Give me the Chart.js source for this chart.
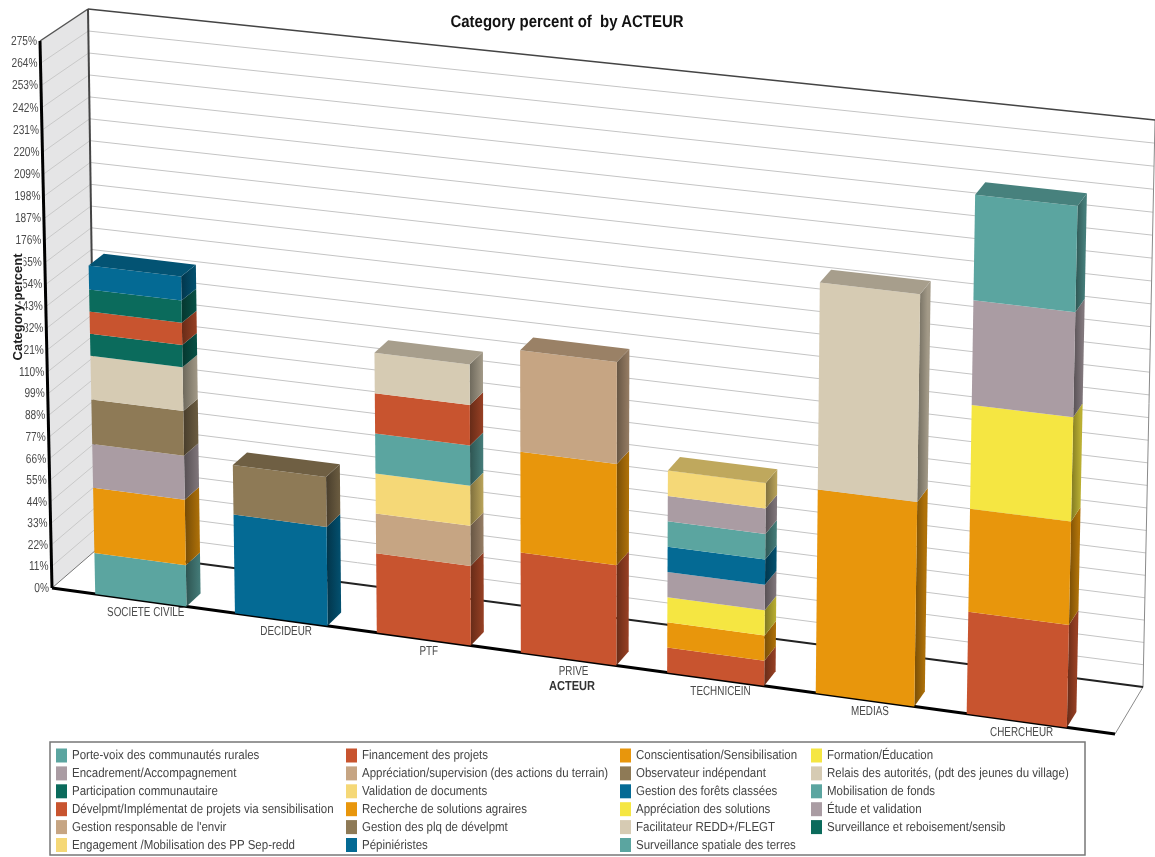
<!DOCTYPE html>
<html>
<head>
<meta charset="utf-8">
<title>Category percent of by ACTEUR</title>
<script src="https://cdn.jsdelivr.net/npm/chart.js@4"></script>
<style>
  html, body { margin: 0; padding: 0; background: #fff; }
  canvas { display: block; }
</style>
</head>
<body>
<canvas id="acteurChart" width="1155" height="857"></canvas>
<script>
const categories = ['SOCIETE CIVILE', 'DECIDEUR', 'PTF', 'PRIVE', 'TECHNICEIN', 'MEDIAS', 'CHERCHEUR'];
const yTicks = [0, 11, 22, 33, 44, 55, 66, 77, 88, 99, 110, 121, 132, 143, 154, 165, 176, 187, 198, 209, 220, 231, 242, 253, 264, 275];

const seriesNames = [
    'Porte-voix des communautés rurales', 'Financement des projets', 'Conscientisation/Sensibilisation', 'Formation/Éducation',
    'Encadrement/Accompagnement', 'Appréciation/supervision (des actions du terrain)', 'Observateur indépendant', 'Relais des autorités, (pdt des jeunes du village)',
    'Participation communautaire', 'Validation de documents', 'Gestion des forêts classées', 'Mobilisation de fonds',
    'Dévelpmt/Implémentat de projets via sensibilisation', 'Recherche de solutions agraires', 'Appréciation des solutions', 'Étude et validation',
    "Gestion responsable de l'envir", 'Gestion des plq de dévelpmt', 'Facilitateur REDD+/FLEGT', 'Surveillance et reboisement/sensib',
    'Engagement /Mobilisation des PP Sep-redd', 'Pépiniéristes', 'Surveillance spatiale des terres'
];

const seriesColors = [
    '#5ba5a0', '#c8542f', '#e8960c', '#f5e642',
    '#aa9ca3', '#c6a583', '#8e7a56', '#d6cbb3',
    '#0b6b5c', '#f5d877', '#046a94', '#5ba5a0',
    '#c8542f', '#e8960c', '#f5e642', '#aa9ca3',
    '#c6a583', '#8e7a56', '#d6cbb3', '#0b6b5c',
    '#f5d877', '#046a94', '#5ba5a0'
];

// one row per series, one column per category
const seriesValues = [
    [21, 0, 0, 0, 0, 0, 0],
    [0, 0, 40, 50, 12.5, 0, 50],
    [33.3, 0, 0, 50, 12.5, 100, 0],
    [0, 0, 0, 0, 12.5, 0, 0],
    [22.2, 0, 0, 0, 12.5, 0, 0],
    [0, 0, 20, 0, 0, 0, 0],
    [22.5, 0, 0, 0, 0, 0, 0],
    [22, 0, 0, 0, 0, 100, 0],
    [11.1, 0, 0, 0, 0, 0, 0],
    [0, 0, 20, 0, 0, 0, 0],
    [0, 50, 0, 0, 12.5, 0, 0],
    [0, 0, 20, 0, 12.5, 0, 0],
    [11.1, 0, 20, 0, 0, 0, 0],
    [0, 0, 0, 0, 0, 0, 50],
    [0, 0, 0, 0, 0, 0, 50],
    [0, 0, 0, 0, 12.5, 0, 50],
    [0, 0, 0, 50, 0, 0, 0],
    [0, 25, 0, 0, 0, 0, 0],
    [0, 0, 20, 0, 0, 0, 0],
    [11.1, 0, 0, 0, 0, 0, 0],
    [0, 0, 0, 0, 12.5, 0, 0],
    [12, 0, 0, 0, 0, 0, 0],
    [0, 0, 0, 0, 0, 0, 50]
];

// corners of the front and back planes: bottom-left, bottom-right, top-right, top-left
const FRONT_PLANE = [[52, 588], [1115, 734], [1128, 158], [40, 41]];
const BACK_PLANE = [[96, 550], [1143, 687], [1155, 120], [88, 9]];
const X_OVERHANG = 0.02;   // floor sticks out a little past the first and last category
const BAR_DEPTH = 0.33;
const FONT = '"Liberation Sans", Arial, sans-serif';

function squareToQuad(q) {
    const [x0, y0] = q[0], [x1, y1] = q[1], [x2, y2] = q[2], [x3, y3] = q[3];
    const dx1 = x1 - x2, dx2 = x3 - x2, sx = x0 - x1 + x2 - x3;
    const dy1 = y1 - y2, dy2 = y3 - y2, sy = y0 - y1 + y2 - y3;
    const den = dx1 * dy2 - dx2 * dy1;
    const g = (sx * dy2 - dx2 * sy) / den;
    const h = (dx1 * sy - sx * dy1) / den;
    const a = x1 - x0 + g * x1, b = x3 - x0 + h * x3;
    const d = y1 - y0 + g * y1, e = y3 - y0 + h * y3;
    return (s, t) => {
        const w = g * s + h * t + 1;
        return [(a * s + b * t + x0) / w, (d * s + e * t + y0) / w];
    };
}

const frontH = squareToQuad(FRONT_PLANE);
const backH = squareToQuad(BACK_PLANE);

// nx/ny are fractions of the chart area, depth runs 0 (front) to 1 (back wall)
function project(nx, ny, depth) {
    const s = (nx + X_OVERHANG) / (1 + 2 * X_OVERHANG);
    const f = frontH(s, ny), b = backH(s, ny);
    return [f[0] + (b[0] - f[0]) * depth, f[1] + (b[1] - f[1]) * depth];
}

function shade(hex, k) {
    const n = parseInt(hex.slice(1), 16);
    const r = Math.round((n >> 16) * k), g = Math.round(((n >> 8) & 255) * k), b = Math.round((n & 255) * k);
    return `rgb(${r},${g},${b})`;
}

function poly(ctx, pts, fill) {
    ctx.beginPath();
    pts.forEach((p, i) => i ? ctx.lineTo(p[0], p[1]) : ctx.moveTo(p[0], p[1]));
    ctx.closePath();
    ctx.fillStyle = fill;
    ctx.fill();
}

function line(ctx, a, b, color, width) {
    ctx.beginPath();
    ctx.moveTo(a[0], a[1]);
    ctx.lineTo(b[0], b[1]);
    ctx.strokeStyle = color;
    ctx.lineWidth = width;
    ctx.stroke();
}

// text squeezed horizontally, the narrow look of the labels
function text(ctx, str, x, y, font, color, align, squeeze, angle, halo) {
    ctx.save();
    ctx.translate(x, y);
    if (angle) ctx.rotate(angle);
    ctx.scale(squeeze || 1, 1);
    ctx.textRendering = 'geometricPrecision';
    ctx.font = font;
    ctx.textAlign = align;
    ctx.textBaseline = 'middle';
    if (halo) {
        ctx.strokeStyle = '#fff';
        ctx.lineWidth = halo;
        ctx.strokeText(str, 0, 0);
    }
    ctx.fillStyle = color;
    ctx.fillText(str, 0, 0);
    ctx.restore();
}

function drawWalls(chart, ctx) {
    const xl = -X_OVERHANG, xr = 1 + X_OVERHANG;
    poly(ctx, [project(xl, 0, 0), project(xl, 0, 1), project(xl, 1, 1), project(xl, 1, 0)], '#e5e5e6');

    const yScale = chart.scales.y;
    const area = chart.chartArea;
    yScale.ticks.forEach(t => {
        if (t.value === 0 || t.value === yTicks[yTicks.length - 1]) return;
        const ny = (area.bottom - yScale.getPixelForValue(t.value)) / area.height;
        line(ctx, project(xl, ny, 0), project(xl, ny, 1), '#c9c9c9', 1);
        line(ctx, project(xl, ny, 1), project(xr, ny, 1), '#c4c4c4', 1);
    });

    line(ctx, project(xr, 0, 1), project(xr, 1, 1), '#8a8a8a', 1);
    line(ctx, project(xr, 0, 0), project(xr, 0, 1), '#8a8a8a', 1);
    line(ctx, project(xl, 0, 0), project(xl, 0, 1), '#777', 1);
    line(ctx, project(xl, 1, 0), project(xl, 1, 1), '#555', 1.5);
    line(ctx, project(xl, 1, 1), project(xr, 1, 1), '#444', 1.5);
    line(ctx, project(xl, 0, 1), project(xl, 1, 1), '#444', 2);
    line(ctx, project(xl, 0, 1), project(xr, 0, 1), '#222', 2);
    line(ctx, project(xl, 0, 0), project(xl, 1, 0), '#000', 3);
    line(ctx, project(xl, 0, 0), project(xr, 0, 0), '#000', 3);
}

function drawBars(chart, ctx) {
    const area = chart.chartArea;
    const toNx = px => (px - area.left) / area.width;
    const toNy = py => (area.bottom - py) / area.height;
    const topOf = categories.map(() => -1);

    chart.data.datasets.forEach((ds, di) => {
        chart.getDatasetMeta(di).data.forEach((bar, i) => {
            if (ds.data[i]) topOf[i] = di;
        });
    });

    chart.data.datasets.forEach((ds, di) => {
        chart.getDatasetMeta(di).data.forEach((bar, i) => {
            if (!ds.data[i]) return;
            const p = bar.getProps(['x', 'y', 'base', 'width'], true);
            const x0 = toNx(p.x - p.width / 2), x1 = toNx(p.x + p.width / 2);
            const y0 = toNy(p.base), y1 = toNy(p.y);
            const color = ds.backgroundColor;

            // right hand side of the block, darker towards the front edge
            const a = project(x1, y0, 0), b = project(x1, y0, BAR_DEPTH);
            const side = ctx.createLinearGradient(a[0], 0, b[0], 0);
            side.addColorStop(0, shade(color, 0.52));
            side.addColorStop(1, shade(color, 0.76));
            poly(ctx, [a, b, project(x1, y1, BAR_DEPTH), project(x1, y1, 0)], side);

            poly(ctx, [project(x0, y0, 0), a, project(x1, y1, 0), project(x0, y1, 0)], color);

            if (topOf[i] === di) {
                poly(ctx, [project(x0, y1, 0), project(x1, y1, 0), project(x1, y1, BAR_DEPTH), project(x0, y1, BAR_DEPTH)], shade(color, 0.78));
            }
        });
    });
}

function drawAxisText(chart, ctx) {
    const area = chart.chartArea;
    const yScale = chart.scales.y, xScale = chart.scales.x;

    yScale.ticks.forEach(t => {
        const ny = (area.bottom - yScale.getPixelForValue(t.value)) / area.height;
        const p = project(-X_OVERHANG, ny, 0);
        text(ctx, t.value + '%', p[0] - 3, p[1], '13px ' + FONT, '#4a4a4a', 'right', 0.78);
    });

    categories.forEach((name, i) => {
        const nx = (xScale.getPixelForValue(i) - area.left) / area.width;
        const p = project(nx, 0, 0);
        text(ctx, name, p[0] + 5, p[1] + 12, '13px ' + FONT, '#4a4a4a', 'center', 0.76);
    });

    text(ctx, 'Category percent of  by ACTEUR', 567, 22, 'bold 17px ' + FONT, '#111', 'center', 0.88);
    text(ctx, 'ACTEUR', 572, 686, 'bold 13px ' + FONT, '#333', 'center', 0.85);
    text(ctx, 'Category percent', 18, 307, 'bold 13px ' + FONT, '#222', 'center', 1, -Math.PI / 2, 3);
}

// four column legend, filled row by row
function drawLegend(chart, ctx) {
    const swatchX = [56, 346, 620, 811];
    ctx.fillStyle = '#fff';
    ctx.fillRect(50, 742, 1035, 113);
    ctx.strokeStyle = '#777';
    ctx.lineWidth = 1.5;
    ctx.strokeRect(50, 742, 1035, 113);

    chart.data.datasets.forEach((ds, i) => {
        const col = i % 4, row = Math.floor(i / 4);
        const y = 755.5 + row * 17.9;
        ctx.fillStyle = ds.backgroundColor;
        ctx.fillRect(swatchX[col], y - 7, 11, 14);
        text(ctx, ds.label, swatchX[col] + 16, y, '13px ' + FONT, '#444', 'left', 0.885);
    });
}

const threeDPlugin = {
    id: 'threeD',
    beforeDatasetsDraw(chart) {
        const ctx = chart.ctx;
        drawWalls(chart, ctx);
        drawBars(chart, ctx);
        drawAxisText(chart, ctx);
        drawLegend(chart, ctx);
    },
    // the blocks are painted above, skip the flat rectangles
    beforeDatasetDraw() {
        return false;
    }
};

new Chart(document.getElementById('acteurChart').getContext('2d'), {
    type: 'bar',
    data: {
        labels: categories,
        datasets: seriesNames.map((name, i) => ({
            label: name,
            data: seriesValues[i],
            backgroundColor: seriesColors[i]
        }))
    },
    options: {
        responsive: false,
        animation: false,
        barPercentage: 0.655,
        categoryPercentage: 1,
        layout: { padding: 0 },
        plugins: {
            legend: { display: false },
            title: { display: false },
            tooltip: { enabled: false }
        },
        scales: {
            x: { stacked: true, display: false },
            y: {
                stacked: true,
                display: false,
                min: 0,
                max: 275,
                afterBuildTicks(scale) {
                    scale.ticks = yTicks.map(v => ({ value: v }));
                }
            }
        }
    },
    plugins: [threeDPlugin]
});
</script>
</body>
</html>
